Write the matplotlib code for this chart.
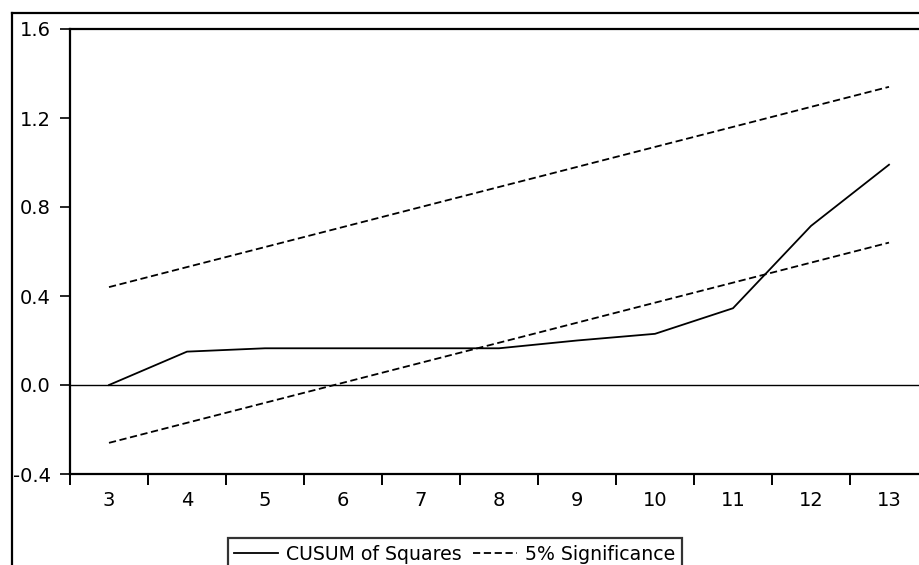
import matplotlib.pyplot as plt
from matplotlib.lines import Line2D

plt.rcParams['font.family'] = ['DejaVu Sans']

# observations and CUSUM of squares statistic
obs = [3, 4, 5, 6, 7, 8, 9, 10, 11, 12, 13]
cusum_sq = [0.00, 0.15, 0.165, 0.165, 0.165, 0.165, 0.20, 0.23, 0.345, 0.715, 0.99]
# 5% significance bounds
upper = [0.44, 0.53, 0.62, 0.71, 0.80, 0.89, 0.98, 1.07, 1.16, 1.25, 1.34]
lower = [-0.26, -0.17, -0.08, 0.01, 0.10, 0.19, 0.28, 0.37, 0.46, 0.55, 0.64]
yticks = [-0.4, 0.0, 0.4, 0.8, 1.2, 1.6]

W, H = 919, 565
fig = plt.figure(figsize=(W / 100, H / 100), dpi=100)
ax = fig.add_axes([70 / W, 1 - 474 / H, (928 - 70) / W, (474 - 29) / H])

ax.plot(obs, cusum_sq, color='black', lw=1.3, label='CUSUM of Squares')
ax.plot(obs, upper, color='black', lw=1.3, ls=(0, (4, 2)), label='5% Significance')
ax.plot(obs, lower, color='black', lw=1.3, ls=(0, (4, 2)))
ax.axhline(0, color='black', lw=1.0)

ax.set_xlim(2.5, 13.5)
ax.set_ylim(-0.4, 1.6)
ax.set_yticks(yticks)
ax.set_yticklabels([f'{v:.1f}' for v in yticks], fontsize=14)
ax.set_xticks(obs)
ax.set_xticklabels([str(o) for o in obs], fontsize=14)
ax.tick_params(axis='x', which='major', length=0, pad=12)
ax.set_xticks([o + 0.5 for o in obs[:-1]] + [2.5], minor=True)
ax.tick_params(axis='x', which='minor', length=8, width=1.4, direction='out')
ax.tick_params(axis='y', length=7, width=1.2, direction='out', pad=7)
for s in ax.spines.values():
    s.set_linewidth(1.6)
ax.spines['right'].set_visible(False)

# outer frame
fig.add_artist(Line2D([12 / W, 12 / W], [0, 1 - 13 / H], color='black', lw=1.6))
fig.add_artist(Line2D([12 / W, 1], [1 - 13 / H, 1 - 13 / H], color='black', lw=1.6))

leg = fig.legend(loc='upper center', bbox_to_anchor=(455 / W, 1 - 538 / H), ncol=2,
                 fontsize=13.6, frameon=True, fancybox=False, edgecolor='black',
                 borderpad=0.35, borderaxespad=0, handlelength=2.3,
                 columnspacing=0.6, handletextpad=0.45)
leg.get_frame().set_linewidth(1.6)

fig.savefig('out.png', dpi=100)
